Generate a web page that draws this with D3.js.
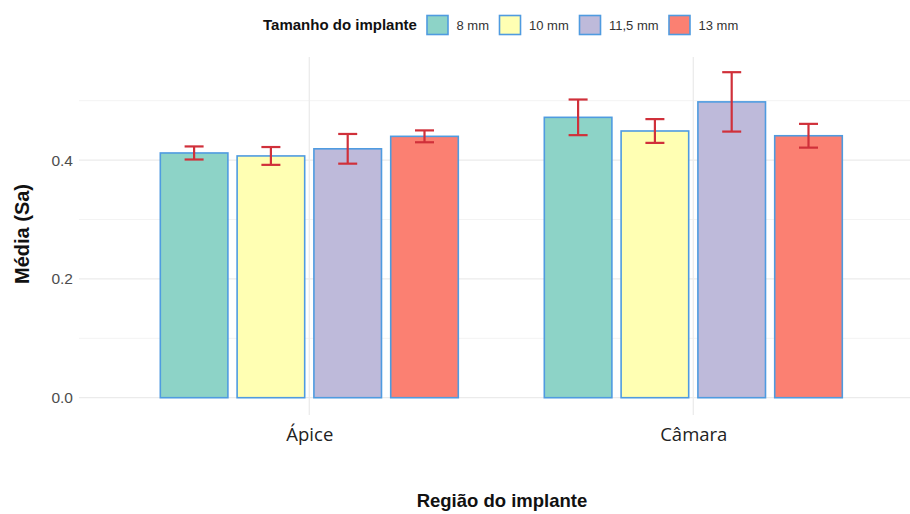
<!DOCTYPE html>
<html>
<head>
<meta charset="utf-8">
<script src="https://cdn.jsdelivr.net/npm/d3@7"></script>
<style>
  html, body { margin: 0; padding: 0; background: #fff; }
  svg { display: block; font-family: "Liberation Sans", Arial, sans-serif; }
</style>
</head>
<body>
<svg id="chart" width="910" height="514"></svg>
<script>
// Regions (x categories) and implant sizes (fill groups)
const regions = ["Ápice", "Câmara"];
const sizes = ["8 mm", "10 mm", "11,5 mm", "13 mm"];
const fills = ["#8DD3C7", "#FFFFB3", "#BEBADA", "#FB8072"];

// Mean Sa per size, one entry per region
const mean8 = [0.412, 0.472];
const mean10 = [0.407, 0.449];
const mean115 = [0.419, 0.498];
const mean13 = [0.440, 0.441];

// Half-width of each error bar
const err8 = [0.011, 0.030];
const err10 = [0.015, 0.020];
const err115 = [0.025, 0.050];
const err13 = [0.010, 0.020];

const yTicks = [0.0, 0.2, 0.4];
const yMinor = [0.1, 0.3, 0.5];

const means = [mean8, mean10, mean115, mean13];
const errs = [err8, err10, err115, err13];
const rows = [];
regions.forEach((r, i) => sizes.forEach((s, j) => {
  rows.push({ region: r, size: s, mean: means[j][i], err: errs[j][i], color: fills[j] });
}));

const svg = d3.select("#chart");
const panel = { left: 79, right: 910, top: 57, bottom: 415 };

// Region centres on a discrete axis (expanded by 0.6 of a step each side)
const x = d3.scalePoint().domain(regions).range([309.3, 693.3]);
const step = x.step();
const dodge = d3.scaleBand().domain(sizes).range([-0.4 * step, 0.4 * step]);
const slot = dodge.bandwidth();
const barW = slot * 0.88;

const y = d3.scaleLinear().domain([0, 0.5]).range([397.7, 100.7]);

// Grid
const grid = svg.append("g");
grid.selectAll("line.minor").data(yMinor).join("line")
  .attr("x1", panel.left).attr("x2", panel.right)
  .attr("y1", d => y(d)).attr("y2", d => y(d))
  .attr("stroke", "#f3f3f3").attr("stroke-width", 1);
grid.selectAll("line.major").data(yTicks).join("line")
  .attr("x1", panel.left).attr("x2", panel.right)
  .attr("y1", d => y(d)).attr("y2", d => y(d))
  .attr("stroke", "#ebebeb").attr("stroke-width", 1.3);
grid.selectAll("line.vx").data(regions).join("line")
  .attr("x1", d => x(d)).attr("x2", d => x(d))
  .attr("y1", panel.top).attr("y2", panel.bottom)
  .attr("stroke", "#ebebeb").attr("stroke-width", 1.3);

// Bars
const bx = d => x(d.region) + dodge(d.size) + (slot - barW) / 2;

svg.append("g").selectAll("rect").data(rows).join("rect")
  .attr("x", bx).attr("width", barW)
  .attr("y", d => y(d.mean)).attr("height", d => y(0) - y(d.mean))
  .attr("fill", d => d.color)
  .attr("stroke", "#4f9be0").attr("stroke-width", 1.6);

// Error bars
const cap = 9.5;
const eb = svg.append("g").attr("stroke", "#d0303a").attr("stroke-width", 2.2);
rows.forEach(d => {
  const cx = bx(d) + barW / 2;
  eb.append("line").attr("x1", cx).attr("x2", cx)
    .attr("y1", y(d.mean + d.err)).attr("y2", y(d.mean - d.err));
  eb.append("line").attr("x1", cx - cap).attr("x2", cx + cap)
    .attr("y1", y(d.mean + d.err)).attr("y2", y(d.mean + d.err));
  eb.append("line").attr("x1", cx - cap).attr("x2", cx + cap)
    .attr("y1", y(d.mean - d.err)).attr("y2", y(d.mean - d.err));
});

// Axes
const yAxis = svg.append("g").attr("transform", `translate(${panel.left},0)`)
  .call(d3.axisLeft(y).tickValues(yTicks).tickFormat(d3.format(".1f")).tickSize(0).tickPadding(6));
yAxis.select(".domain").remove();
yAxis.selectAll("text").attr("font-size", 15.5).attr("fill", "#4d4d4d")
  .style("font-family", "'Liberation Sans', Arial, sans-serif");

const xAxis = svg.append("g").attr("transform", `translate(0,${panel.bottom})`)
  .call(d3.axisBottom(x).tickSize(0).tickPadding(13));
xAxis.select(".domain").remove();
xAxis.selectAll("text").attr("font-size", 18.5).attr("fill", "#222")
  .style("font-family", "'Open Sans', 'Noto Sans', sans-serif");

// Axis titles
svg.append("text").attr("x", 502).attr("y", 507).attr("text-anchor", "middle")
  .attr("font-size", 18.5).attr("font-weight", "bold").attr("fill", "#111")
  .text("Região do implante");
svg.append("text").attr("transform", "translate(29,234) rotate(-90)")
  .attr("text-anchor", "middle")
  .attr("font-size", 20).attr("font-weight", "bold").attr("fill", "#111")
  .text("Média (Sa)");

// Legend
const legend = svg.append("g");
legend.append("text").attr("x", 263).attr("y", 30)
  .attr("font-size", 15).attr("font-weight", "bold").attr("fill", "#111")
  .text("Tamanho do implante");
const keyX = [427, 499.5, 579.5, 669];
sizes.forEach((s, j) => {
  legend.append("rect").attr("x", keyX[j]).attr("y", 15.5).attr("width", 21).attr("height", 19)
    .attr("fill", fills[j]).attr("stroke", "#4f9be0").attr("stroke-width", 1.6);
  legend.append("text").attr("x", keyX[j] + 29.5).attr("y", 30)
    .attr("font-size", 13).attr("fill", "#333").text(s);
});
</script>
</body>
</html>
